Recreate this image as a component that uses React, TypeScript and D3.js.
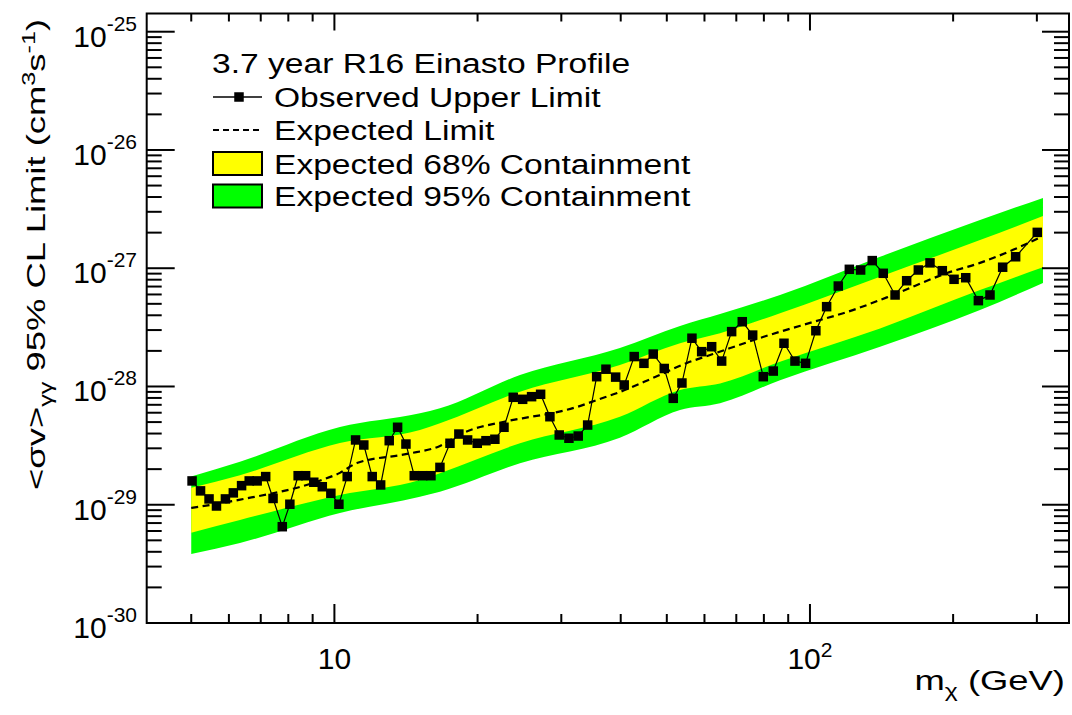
import React from "react";
import * as d3 from "d3";

// ---------------- data ----------------
const obsMass = [
  5.02, 5.23, 5.45, 5.65, 5.9, 6.13, 6.38, 6.62, 6.88, 7.17,
  7.43, 7.77, 8.06, 8.39, 8.7, 9.05, 9.43, 9.83, 10.22, 10.64,
  11.08, 11.53, 12.01, 12.51, 13.04, 13.58, 14.14, 14.72, 15.33, 15.96,
  16.67, 17.5, 18.27, 19.06, 19.97, 20.83, 21.75, 22.73, 23.77, 24.88,
  25.98, 27.14, 28.39, 29.7, 31.13, 32.56, 34.08, 35.6, 37.24, 39.03,
  40.68, 42.7, 44.76, 46.82, 49.38, 51.58, 53.8, 56.47, 59.19, 62.13,
  65.21, 68.44, 72.05, 75.78, 79.77, 83.72, 88.18, 93.0, 97.9, 102.9,
  108.4, 114.7, 121.0, 127.8, 135.2, 142.6, 151.0, 159.7, 169.0, 178.8,
  189.8, 200.9, 212.6, 226.0, 239.1, 254.2, 270.7, 300.6,
];
const obsLimit = [
  1.59e-29, 1.31e-29, 1.12e-29, 9.76e-30, 1.12e-29, 1.26e-29, 1.45e-29, 1.59e-29, 1.59e-29, 1.73e-29,
  1.13e-29, 6.52e-30, 1.01e-29, 1.76e-29, 1.76e-29, 1.55e-29, 1.42e-29, 1.25e-29, 1.01e-29, 1.73e-29,
  3.53e-29, 3.2e-29, 1.73e-29, 1.47e-29, 3.48e-29, 4.52e-29, 3.26e-29, 1.76e-29, 1.76e-29, 1.76e-29,
  2.07e-29, 3.31e-29, 3.96e-29, 3.53e-29, 3.31e-29, 3.48e-29, 3.58e-29, 4.52e-29, 8.1e-29, 7.79e-29,
  8.2e-29, 8.59e-29, 5.55e-29, 3.89e-29, 3.65e-29, 3.81e-29, 4.72e-29, 1.21e-28, 1.4e-28, 1.2e-28,
  1.03e-28, 1.79e-28, 1.57e-28, 1.88e-28, 1.42e-28, 7.94e-29, 1.07e-28, 2.56e-28, 1.97e-28, 2.17e-28,
  1.64e-28, 2.91e-28, 3.53e-28, 2.72e-28, 1.21e-28, 1.35e-28, 2.32e-28, 1.64e-28, 1.57e-28, 2.96e-28,
  4.73e-28, 7.07e-28, 9.79e-28, 9.66e-28, 1.16e-27, 9.06e-28, 5.94e-28, 7.84e-28, 9.66e-28, 1.11e-27,
  9.53e-28, 8.06e-28, 8.31e-28, 5.32e-28, 5.94e-28, 1.02e-27, 1.25e-27, 2.01e-27,
];

const expMass = [
  5.0, 6.3, 9.41, 10.27, 11.15, 14.21, 16.67, 18.63, 22.62, 25.77, 28.81, 32.36, 35.66,
  39.84, 46.75, 55.12, 62.52, 79.65, 101.5, 119.6, 149.5, 194.2, 227.8, 267.3, 303,
];
const expLimit = [
  9.39e-30, 1.1e-29, 1.62e-29, 1.86e-29, 2.25e-29, 2.69e-29, 3.14e-29, 4.04e-29, 5.01e-29,
  5.52e-29, 5.97e-29, 6.71e-29, 7.69e-29, 8.98e-29, 1.18e-28, 1.58e-28, 1.88e-28, 2.62e-28,
  3.51e-28, 4.26e-28, 5.94e-28, 9.11e-28, 1.11e-27, 1.43e-27, 1.8e-27,
];

const bandMass = [5.0, 6.33, 10.27, 15.13, 16.67, 24.56, 39.84, 53.3, 64.7, 86.5, 140.4, 227.8, 309];
const band95Hi = [1.73e-29, 2.31e-29, 4.54e-29, 5.93e-29, 6.54e-29, 1.25e-28, 2.12e-28, 3.25e-28, 4.1e-28, 5.94e-28, 1.25e-27, 2.56e-27, 3.93e-27];
const band68Hi = [1.39e-29, 1.78e-29, 3.33e-29, 4.29e-29, 4.88e-29, 9.03e-29, 1.52e-28, 2.32e-28, 2.82e-28, 4.16e-28, 8.48e-28, 1.73e-27, 2.76e-27];
const band68Lo = [5.8e-30, 7.43e-30, 1.21e-29, 1.62e-29, 1.85e-29, 3.31e-29, 5.55e-29, 9.34e-29, 1.06e-28, 1.62e-28, 3.1e-28, 6.54e-28, 1.02e-27];
const band95Lo = [3.83e-30, 4.75e-30, 8.52e-30, 1.17e-29, 1.29e-29, 2.24e-29, 3.68e-29, 6.32e-29, 7.21e-29, 1.13e-28, 2.17e-28, 4.43e-28, 7.5e-28];

const yTickExponents = [-30, -29, -28, -27, -26, -25];
const xMajorTicks = [10, 100];
const xMajorLabels = [
  { base: "10", sup: "" },
  { base: "10", sup: "2" },
];
const legendTitle = "3.7 year R16 Einasto Profile";
const legendLabels = [
  "Observed Upper Limit",
  "Expected Limit",
  "Expected 68% Containment",
  "Expected 95% Containment",
];

// ---------------- layout ----------------
const W = 1072;
const H = 715;
const L = 146.7;
const R = 1069;
const T = 13.5;
const B = 623;
const FONT = "'Liberation Sans', Arial, Helvetica, sans-serif";
const YELLOW = "#ffff00";
const GREEN = "#00ff00";

export default function App() {
  const x = d3.scaleLog().domain([4.03, 350.5]).range([L, R]);
  const y = d3.scaleLog().domain([1e-30, Math.pow(10, -24.846)]).range([B, T]);
  const [yMin, yMax] = y.domain();
  const [xMin, xMax] = x.domain();

  const area = (lo: number[], hi: number[]) =>
    d3
      .area<number>()
      .x((_, i) => x(bandMass[i]))
      .y0((_, i) => y(lo[i]))
      .y1((_, i) => y(hi[i]))
      .curve(d3.curveMonotoneX)(bandMass) || "";

  const expLine =
    d3
      .line<number>()
      .x((_, i) => x(expMass[i]))
      .y((_, i) => y(expLimit[i]))
      .curve(d3.curveMonotoneX)(expMass) || "";

  const obsLine =
    d3
      .line<number>()
      .x((_, i) => x(obsMass[i]))
      .y((_, i) => y(obsLimit[i]))(obsMass) || "";

  const yMinor: number[] = [];
  for (let e = -31; e <= -24; e++) {
    for (let k = 2; k <= 9; k++) {
      const v = k * Math.pow(10, e);
      if (v > yMin && v < yMax) yMinor.push(v);
    }
  }
  const yMajor = yTickExponents.map((e) => Math.pow(10, e));

  const xMinor: number[] = [];
  for (let e = 0; e <= 3; e++) {
    for (let k = 2; k <= 9; k++) {
      const v = k * Math.pow(10, e);
      if (v > xMin && v < xMax) xMinor.push(v);
    }
  }

  const tickStroke = { stroke: "#000", strokeWidth: 2 };
  const ms = 9.5;

  const legendRowsY = [63, 97, 130, 163.5, 196];

  return (
    <svg
      width={W}
      height={H}
      style={{ position: "absolute", left: 0, top: 0, background: "#fff" }}
      fontFamily={FONT}
    >
      <rect x={0} y={0} width={W} height={H} fill="#fff" />
      <path d={area(band95Lo, band95Hi)} fill={GREEN} />
      <path d={area(band68Lo, band68Hi)} fill={YELLOW} />
      <path d={expLine} fill="none" stroke="#000" strokeWidth={2.2} strokeDasharray="7,4.5" />
      <path d={obsLine} fill="none" stroke="#000" strokeWidth={1.2} />
      {obsMass.map((m, i) => (
        <rect
          key={i}
          x={x(m) - ms / 2}
          y={y(obsLimit[i]) - ms / 2}
          width={ms}
          height={ms}
          fill="#000"
        />
      ))}

      <rect x={L} y={T} width={R - L} height={B - T} fill="none" stroke="#000" strokeWidth={2} />

      {yMajor.map((v, i) => (
        <g key={"ym" + i}>
          <line x1={L} x2={L + 28} y1={y(v)} y2={y(v)} {...tickStroke} />
          <line x1={R} x2={R - 27} y1={y(v)} y2={y(v)} {...tickStroke} />
        </g>
      ))}
      {yMinor.map((v, i) => (
        <g key={"yn" + i}>
          <line x1={L} x2={L + 15} y1={y(v)} y2={y(v)} {...tickStroke} />
          <line x1={R} x2={R - 15} y1={y(v)} y2={y(v)} {...tickStroke} />
        </g>
      ))}
      {xMajorTicks.map((v, i) => (
        <g key={"xm" + i}>
          <line x1={x(v)} x2={x(v)} y1={B} y2={B - 19} {...tickStroke} />
          <line x1={x(v)} x2={x(v)} y1={T} y2={T + 17} {...tickStroke} />
        </g>
      ))}
      {xMinor.map((v, i) => (
        <g key={"xn" + i}>
          <line x1={x(v)} x2={x(v)} y1={B} y2={B - 9} {...tickStroke} />
          <line x1={x(v)} x2={x(v)} y1={T} y2={T + 8} {...tickStroke} />
        </g>
      ))}

      {yTickExponents.map((e, i) => (
        <text key={"yl" + i} x={137} y={y(Math.pow(10, e)) + 15} textAnchor="end" fontSize={30} fill="#000">
          <tspan>10</tspan>
          <tspan dy={-16} fontSize={21}>{`${e}`}</tspan>
        </text>
      ))}
      {xMajorTicks.map((v, i) => (
        <text key={"xl" + i} x={x(v)} y={669} textAnchor="middle" fontSize={30} fill="#000">
          <tspan>{xMajorLabels[i].base}</tspan>
          {xMajorLabels[i].sup ? (
            <tspan dy={-12} fontSize={21}>{xMajorLabels[i].sup}</tspan>
          ) : null}
        </text>
      ))}

      <text transform="translate(1065,690) scale(1.3,1)" textAnchor="end" fontSize={28} fill="#000">
        <tspan>m</tspan>
        <tspan dy={7} fontSize={19}>χ</tspan>
        <tspan dy={-7}>{" (GeV)"}</tspan>
      </text>
      <text transform="translate(45,490) rotate(-90) scale(1.4,1)" fontSize={26} fill="#000">
        <tspan>{"<σv>"}</tspan>
        <tspan dy={7} fontSize={18}>γγ</tspan>
        <tspan dy={-7}>{" 95% CL Limit (cm"}</tspan>
        <tspan dy={-10} fontSize={18}>3</tspan>
        <tspan dy={10}>s</tspan>
        <tspan dy={-10} fontSize={18}>-1</tspan>
        <tspan dy={10}>)</tspan>
      </text>

      <text transform={`translate(212,${legendRowsY[0] + 10}) scale(1.2,1)`} fontSize={28} fill="#000">
        {legendTitle}
      </text>
      <line x1={213} x2={262} y1={legendRowsY[1]} y2={legendRowsY[1]} stroke="#000" strokeWidth={1.5} />
      <rect x={239 - ms / 2} y={legendRowsY[1] - ms / 2} width={ms} height={ms} fill="#000" />
      <line
        x1={213}
        x2={262}
        y1={legendRowsY[2]}
        y2={legendRowsY[2]}
        stroke="#000"
        strokeWidth={2.2}
        strokeDasharray="6,4"
      />
      <rect x={213} y={legendRowsY[3] - 11.5} width={49} height={23} fill={YELLOW} stroke="#000" strokeWidth={2} />
      <rect x={213} y={legendRowsY[4] - 11.5} width={49} height={23} fill={GREEN} stroke="#000" strokeWidth={2} />
      {legendLabels.map((lab, i) => (
        <text
          key={"lg" + i}
          transform={`translate(274,${legendRowsY[i + 1] + 10}) scale(1.2,1)`}
          fontSize={28}
          fill="#000"
        >
          {lab}
        </text>
      ))}
    </svg>
  );
}
